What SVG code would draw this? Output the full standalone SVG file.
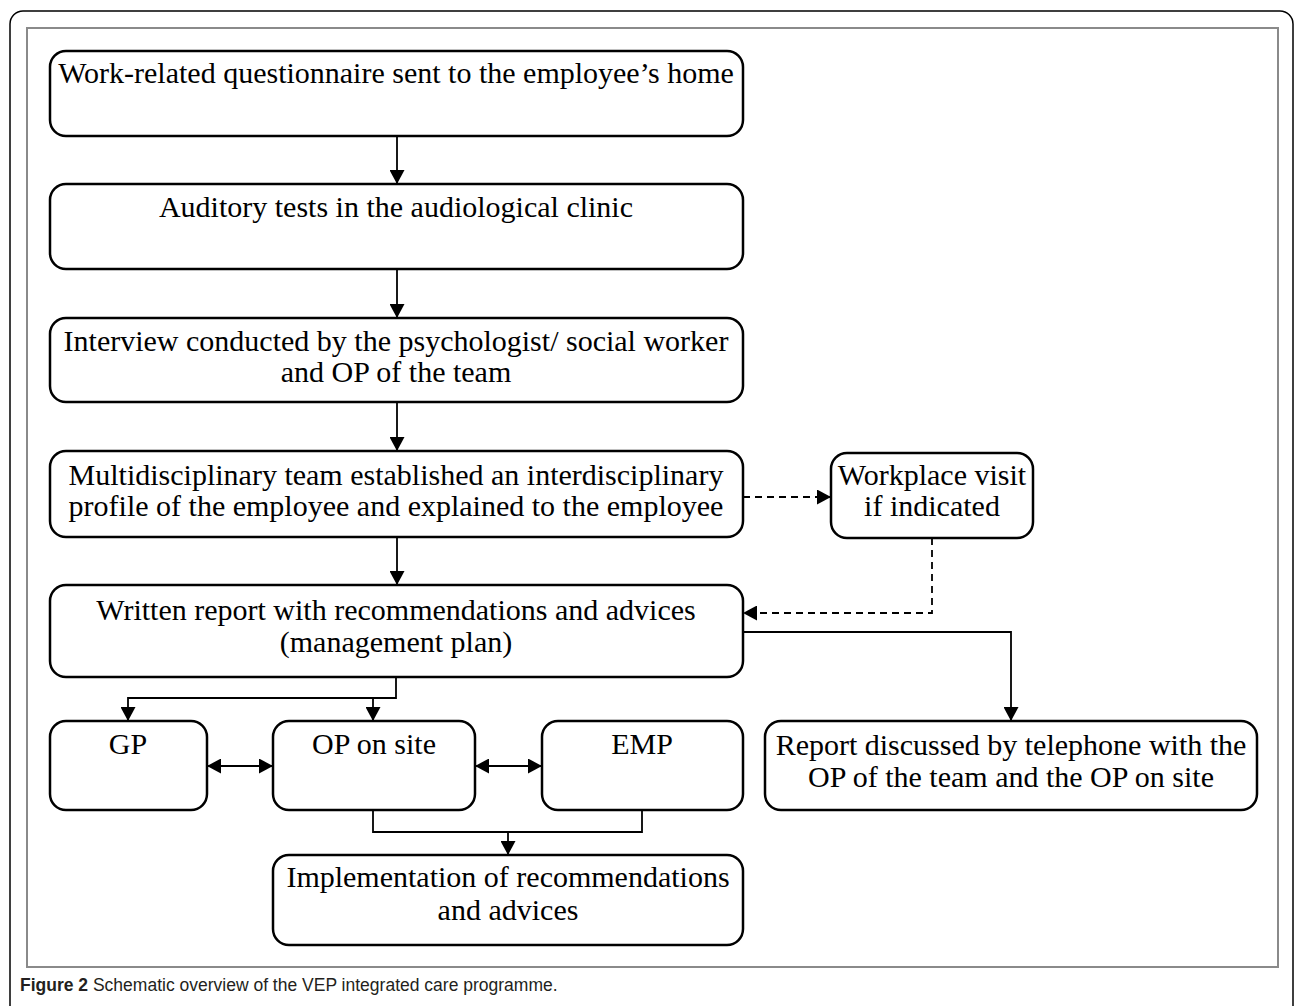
<svg xmlns="http://www.w3.org/2000/svg" width="1295" height="1006" viewBox="0 0 1295 1006">
<style>
.box{fill:#fff;stroke:#000;stroke-width:2.5}
.t{font-family:"Liberation Serif","Times New Roman",serif;font-size:30px;fill:#000;text-anchor:middle}
.c{fill:none;stroke:#000;stroke-width:1.8}
.d{fill:none;stroke:#000;stroke-width:1.8;stroke-dasharray:7,5}
</style>
<defs>
<marker id="a" viewBox="0 0 14 15" refX="14" refY="7.5" markerWidth="14" markerHeight="15" markerUnits="userSpaceOnUse" orient="auto-start-reverse">
<path d="M0,0 L14,7.5 L0,15 z" fill="#000"/>
</marker>
</defs>
<rect x="0" y="0" width="1295" height="1006" fill="#fff"/>
<rect x="10" y="11" width="1283" height="1020" rx="13" fill="none" stroke="#000" stroke-width="1.5"/>
<rect x="27" y="28" width="1251" height="939" fill="none" stroke="#8a8a8a" stroke-width="2"/>
<g id="connectors">
<path class="c" d="M397,136 V184" marker-end="url(#a)"/>
<path class="c" d="M397,269 V318" marker-end="url(#a)"/>
<path class="c" d="M397,402 V451" marker-end="url(#a)"/>
<path class="c" d="M397,537 V585" marker-end="url(#a)"/>
<path class="d" d="M743,497 H831" marker-end="url(#a)"/>
<path class="d" d="M932,538 V613 H743" marker-end="url(#a)"/>
<path class="c" d="M743,632 H1011 V721" marker-end="url(#a)"/>
<path class="c" d="M396,677 V698 H128 V721" marker-end="url(#a)"/>
<path class="c" d="M373,698 V721" marker-end="url(#a)"/>
<path class="c" d="M207,766 H273" marker-start="url(#a)" marker-end="url(#a)"/>
<path class="c" d="M475,766 H542" marker-start="url(#a)" marker-end="url(#a)"/>
<path class="c" d="M373,810 V832 H642 V810"/>
<path class="c" d="M508,832 V855" marker-end="url(#a)"/>
</g>
<g id="n1"><rect class="box" x="50" y="51" width="693" height="85" rx="16"/><text class="t" x="396" y="83">Work-related questionnaire sent to the employee’s home</text></g>
<g id="n2"><rect class="box" x="50" y="184" width="693" height="85" rx="16"/><text class="t" x="396" y="217">Auditory tests in the audiological clinic</text></g>
<g id="n3"><rect class="box" x="50" y="318" width="693" height="84" rx="16"/><text class="t" x="396" y="351">Interview conducted by the psychologist/ social worker</text><text class="t" x="396" y="382">and OP of the team</text></g>
<g id="n4"><rect class="box" x="50" y="451" width="693" height="86" rx="16"/><text class="t" x="396" y="485">Multidisciplinary team established an interdisciplinary</text><text class="t" x="396" y="516">profile of the employee and explained to the employee</text></g>
<g id="n5"><rect class="box" x="831" y="453" width="202" height="85" rx="16"/><text class="t" x="932" y="485">Workplace visit</text><text class="t" x="932" y="516">if indicated</text></g>
<g id="n6"><rect class="box" x="50" y="585" width="693" height="92" rx="16"/><text class="t" x="396" y="620">Written report with recommendations and advices</text><text class="t" x="396" y="652">(management plan)</text></g>
<g id="n7"><rect class="box" x="50" y="721" width="157" height="89" rx="16"/><text class="t" x="128" y="754">GP</text></g>
<g id="n8"><rect class="box" x="273" y="721" width="202" height="89" rx="16"/><text class="t" x="374" y="754">OP on site</text></g>
<g id="n9"><rect class="box" x="542" y="721" width="201" height="89" rx="16"/><text class="t" x="642" y="754">EMP</text></g>
<g id="n10"><rect class="box" x="765" y="721" width="492" height="89" rx="16"/><text class="t" x="1011" y="755">Report discussed by telephone with the</text><text class="t" x="1011" y="787">OP of the team and the OP on site</text></g>
<g id="n11"><rect class="box" x="273" y="855" width="470" height="90" rx="16"/><text class="t" x="508" y="887">Implementation of recommendations</text><text class="t" x="508" y="920">and advices</text></g>
<text x="20" y="991" font-family="'Liberation Sans',Arial,sans-serif" font-size="17.5" fill="#231f20"><tspan font-weight="bold">Figure 2</tspan> Schematic overview of the VEP integrated care programme.</text>
</svg>
